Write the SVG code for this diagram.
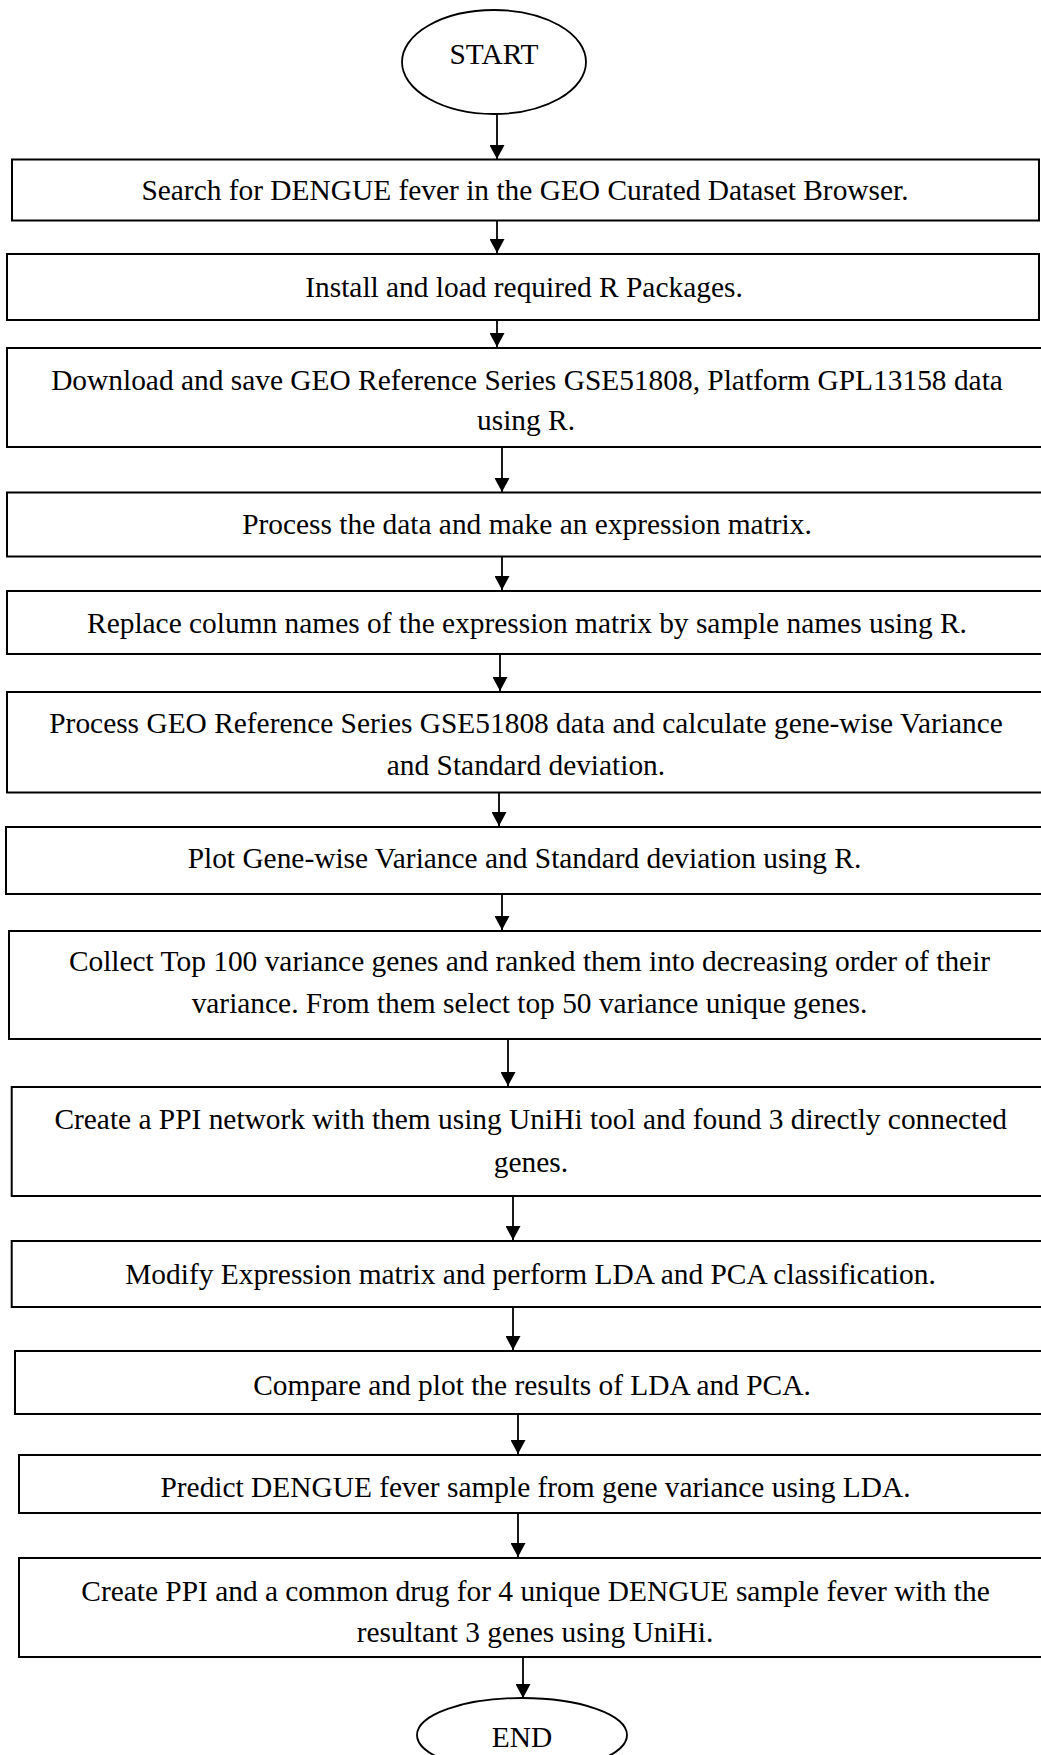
<svg xmlns="http://www.w3.org/2000/svg" width="1041" height="1755" viewBox="0 0 1041 1755">
<style>
.box{fill:#fff;stroke:#000;stroke-width:2}
.term{fill:#fff;stroke:#000;stroke-width:1.8}
.t{font-family:"Liberation Serif","Times New Roman",serif;font-size:29.4px;fill:#000;text-anchor:middle}
.c{stroke:#000;stroke-width:1.8;fill:none;marker-end:url(#ah)}
</style>
<defs>
<marker id="ah" markerUnits="userSpaceOnUse" viewBox="0 0 14 15" markerWidth="14" markerHeight="15" refX="14" refY="7.5" orient="auto">
<path d="M0,0 L14,7.5 L0,15 z" fill="#000"/>
</marker>
</defs>
<rect width="1041" height="1755" fill="#fff"/>
<g id="connectors">
<line class="c" x1="497" y1="114" x2="497" y2="159"/>
<line class="c" x1="497" y1="221" x2="497" y2="253"/>
<line class="c" x1="497" y1="320" x2="497" y2="347"/>
<line class="c" x1="502" y1="447" x2="502" y2="492"/>
<line class="c" x1="502" y1="557" x2="502" y2="590"/>
<line class="c" x1="500" y1="654" x2="500" y2="691"/>
<line class="c" x1="499" y1="793" x2="499" y2="826"/>
<line class="c" x1="502" y1="894" x2="502" y2="930"/>
<line class="c" x1="508" y1="1039" x2="508" y2="1086"/>
<line class="c" x1="513" y1="1196" x2="513" y2="1240"/>
<line class="c" x1="513" y1="1307" x2="513" y2="1350"/>
<line class="c" x1="518" y1="1414" x2="518" y2="1454"/>
<line class="c" x1="518" y1="1510" x2="518" y2="1557"/>
<line class="c" x1="523" y1="1657" x2="523" y2="1698"/>
</g>
<g id="start">
<ellipse class="term" cx="494" cy="62" rx="92" ry="52"/>
<text class="t" x="494" y="64">START</text>
</g>
<g id="n1">
<rect class="box" x="12" y="159.5" width="1027" height="61"/>
<text class="t" x="525" y="200">Search for DENGUE fever in the GEO Curated Dataset Browser.</text>
</g>
<g id="n2">
<rect class="box" x="7" y="254" width="1032" height="66"/>
<text class="t" x="524" y="296.5">Install and load required R Packages.</text>
</g>
<g id="n3">
<rect class="box" x="7" y="348" width="1040" height="99"/>
<text class="t" x="527" y="390">Download and save GEO Reference Series GSE51808, Platform GPL13158 data</text>
<text class="t" x="526" y="430">using R.</text>
</g>
<g id="n4">
<rect class="box" x="7" y="492.5" width="1040" height="64"/>
<text class="t" x="527" y="534">Process the data and make an expression matrix.</text>
</g>
<g id="n5">
<rect class="box" x="7" y="591" width="1040" height="63"/>
<text class="t" x="527" y="632.5">Replace column names of the expression matrix by sample names using R.</text>
</g>
<g id="n6">
<rect class="box" x="7" y="692" width="1038" height="100.5"/>
<text class="t" x="526" y="733">Process GEO Reference Series GSE51808 data and calculate gene-wise Variance</text>
<text class="t" x="526" y="775">and Standard deviation.</text>
</g>
<g id="n7">
<rect class="box" x="6" y="827" width="1037" height="67"/>
<text class="t" x="524.5" y="868">Plot Gene-wise Variance and Standard deviation using R.</text>
</g>
<g id="n8">
<rect class="box" x="9" y="931" width="1041" height="108"/>
<text class="t" x="529.5" y="970.5">Collect Top 100 variance genes and ranked them into decreasing order of their</text>
<text class="t" x="529.5" y="1013">variance. From them select top 50 variance unique genes.</text>
</g>
<g id="n9">
<rect class="box" x="11.7" y="1087" width="1038" height="109"/>
<text class="t" x="530.7" y="1129">Create a PPI network with them using UniHi tool and found 3 directly connected</text>
<text class="t" x="531" y="1172">genes.</text>
</g>
<g id="n10">
<rect class="box" x="11.7" y="1241" width="1037" height="66"/>
<text class="t" x="530.5" y="1284">Modify Expression matrix and perform LDA and PCA classification.</text>
</g>
<g id="n11">
<rect class="box" x="15" y="1351" width="1034" height="63"/>
<text class="t" x="532" y="1395">Compare and plot the results of LDA and PCA.</text>
</g>
<g id="n12">
<rect class="box" x="19" y="1455" width="1033" height="58"/>
<text class="t" x="535.5" y="1496.5">Predict DENGUE fever sample from gene variance using LDA.</text>
</g>
<g id="n13">
<rect class="box" x="19" y="1558" width="1033" height="99"/>
<text class="t" x="535.5" y="1601">Create PPI and a common drug for 4 unique DENGUE sample fever with the</text>
<text class="t" x="535" y="1641.5">resultant 3 genes using UniHi.</text>
</g>
<g id="end">
<ellipse class="term" cx="522" cy="1735" rx="105" ry="37"/>
<text class="t" x="522" y="1747">END</text>
</g>
</svg>
